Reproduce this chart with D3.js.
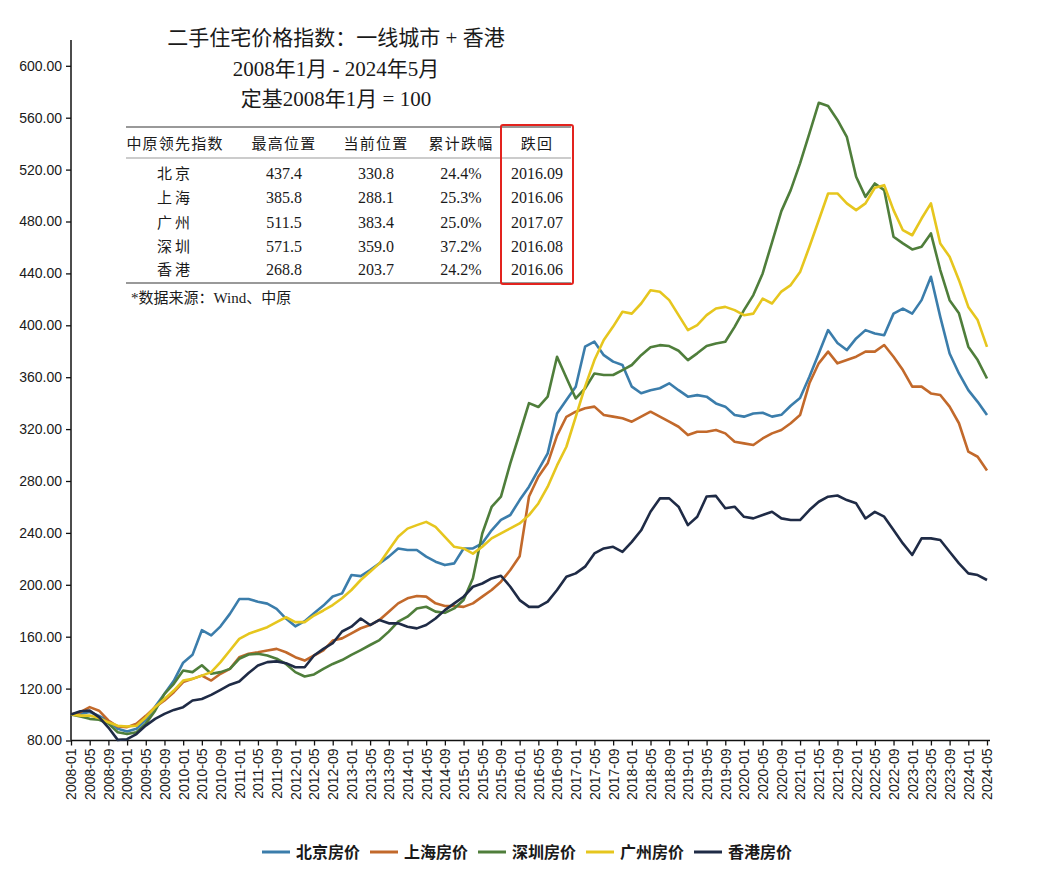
<!DOCTYPE html>
<html><head><meta charset="utf-8">
<script src="https://cdn.jsdelivr.net/npm/d3@7"></script>
<style>body{margin:0;background:#fff}</style></head>
<body><svg id="c" width="1058" height="875"></svg>
<script>
// ---------- DATA ----------
const seriesNames = ["北京房价","上海房价","深圳房价","广州房价","香港房价"];
const seriesColors = ["#3b7dab","#c2692b","#4f7e3b","#e6c61e","#1f2b46"];
const startMonth = "2008-01";
const stepMonths = 2;
const beijing = [100,100.5,102,99,95,89,87,89,96,106,
 116,126,140,146,165,161,168,177.6,189,189,
 187,185.5,181.5,174,168,172,178,184,191,193.4,
 207.5,206.7,211.4,216.5,221.7,228,226.8,226.8,221.7,217.8,
 215.2,216.5,228,228,232,242,250,253.8,265.3,275.6,
 288.5,301.3,332,342.4,352.7,383.5,387.4,377,372,369.4,
 352.7,347.6,350,351.5,355.3,350,345,346.2,345,339.8,
 337.3,330.9,329.6,332,332.6,329.6,331,338,344,360.4,
 378.3,396.3,386.4,380.9,389.9,396.3,393.7,392.4,409,412.9,
 409,419.4,437.4,406.5,378.3,362.9,350,341,330.8];
const shanghai = [100,101.8,105.7,103,95.4,90.8,90.3,93,99,105.7,
 110.8,117.2,125,127.5,130,126.2,131.4,135.2,144.2,146.8,
 148,149.4,150.6,148,144.2,141.6,145.5,149.4,157,158.7,
 162.6,166.5,169,172.9,179.3,185.7,189.6,191.4,190.9,185.7,
 183.7,183.7,183,185.7,190.9,196,202.4,211.4,222,268,
 283.3,293.6,315,329.5,333.4,336,337.3,330.9,329.6,328.3,
 325.7,329.6,333.4,329.6,325.7,321.8,315.4,318,318,319.3,
 316.7,310.2,309,307.7,312.8,316.7,319.3,324.5,330.8,355.3,
 370.7,379.7,370.7,373.2,375.8,379.7,379.7,384.8,375.8,365.5,
 352.7,352.7,347.5,346.3,337.3,324.5,302.6,298.7,288.1];
const shenzhen = [100,98.5,96.7,96,93,86.4,85,86.4,93,103,
 116,123.7,134,132.7,138,131.4,132.7,135.2,143,146.3,
 146.8,145.5,143,139,132.7,129.3,130.9,135.2,139,142,
 146,149.7,153.6,157.4,163.9,171.6,175.4,181.8,183.1,179.3,
 178.4,181.8,188.3,205,239.5,260,268,293.6,316.6,340,
 337,345,375.8,359.6,343.6,351.3,362.9,361.7,361.7,365.5,
 369.4,377,383,384.7,384,380.4,373.2,378.4,384,386,
 387.3,398.8,411.7,423.3,440,464,488,504.2,524.8,547.9,
 571.5,569,558.3,545.3,514.5,499,509.3,504.2,468.3,463.1,
 458.5,460.5,470.8,442.6,419.4,409.2,383.5,373.2,359];
const guangzhou = [100,99.2,99.2,97.3,94,91.4,90.8,91.4,97.8,105.7,
 112,118.5,126.2,127.5,130,132.7,140.4,149.4,158.3,162.2,
 164.8,167.3,171.2,175,171.2,171.2,176.3,180.2,184.4,189.6,
 196,203.7,210,216.5,226.8,237,243.3,246,248.5,244.6,
 237,229.3,228,224,229.3,235.8,239.6,243.5,247.3,253.7,
 262.7,275.6,292,306.4,329.5,352.7,373.2,388.7,399,410.4,
 409,416.8,427,425.8,419.4,407.8,396.3,400.1,407.8,413,
 414.2,411.7,407.8,409,420.6,416.8,426,431,441,460.5,
 481,501.6,501.6,494,488.8,494,506,508,488.8,473.3,
 469.4,482.3,494,463.1,452.8,434.8,414.2,404,383.4];
const hongkong = [100,102.6,103,98,90,80.5,81,85,91.5,96.7,
 100.5,103.6,105.7,110.8,112,115.2,119,123,125.5,132,
 137.8,140.4,141,139.6,136.5,136.5,145.5,150.6,155,164,
 167.7,174,169,172.9,170.3,170.3,167.7,166.4,169,174,
 180.5,185.7,190.8,198.5,201,204.9,207,198.5,188.2,183,
 183,187,196,206.2,208.8,214,224.2,228,229.3,225.4,
 233.1,242,256.3,266.6,266.6,260.2,246,252.4,268,268.5,
 259,260.2,252.4,251.2,253.8,256.3,251.2,249.9,249.9,257.6,
 264,267.9,268.8,265.3,262.8,251.1,256.2,252.5,242.2,231.9,
 223,235.8,235.8,234.5,225.5,216.5,208.8,207.5,203.7];
const allSeries = [beijing, shanghai, shenzhen, guangzhou, hongkong];

const xTickLabels = ["2008-01","2008-05","2008-09","2009-01","2009-05","2009-09","2010-01","2010-05","2010-09","2011-01","2011-05","2011-09","2012-01","2012-05","2012-09","2013-01","2013-05","2013-09","2014-01","2014-05","2014-09","2015-01","2015-05","2015-09","2016-01","2016-05","2016-09","2017-01","2017-05","2017-09","2018-01","2018-05","2018-09","2019-01","2019-05","2019-09","2020-01","2020-05","2020-09","2021-01","2021-05","2021-09","2022-01","2022-05","2022-09","2023-01","2023-05","2023-09","2024-01","2024-05"];
const yTicks = [80,120,160,200,240,280,320,360,400,440,480,520,560,600];

const titleLines = ["二手住宅价格指数：一线城市 + 香港","2008年1月 - 2024年5月","定基2008年1月 = 100"];
const tableHeader = ["中原领先指数","最高位置","当前位置","累计跌幅","跌回"];
const tableCities = ["北京","上海","广州","深圳","香港"];
const tableMax = ["437.4","385.8","511.5","571.5","268.8"];
const tableNow = ["330.8","288.1","383.4","359.0","203.7"];
const tableDrop = ["24.4%","25.3%","25.0%","37.2%","24.2%"];
const tableBack = ["2016.09","2016.06","2017.07","2016.08","2016.06"];
const footnote = "*数据来源：Wind、中原";

// ---------- CHART ----------
const svg = d3.select("#c");
svg.append("rect").attr("width",1058).attr("height",875).attr("fill","#fff");
const monthIndex = s => { const [yy,mm] = s.split("-").map(Number); return (yy-2008)*12 + (mm-1); };
const x0 = monthIndex(startMonth);
const x = d3.scaleLinear().domain([0,196]).range([71,987]);
const y = d3.scaleLinear().domain([80,600]).range([740.5,65.8]);

const sansLatin = "'Liberation Sans', Arial, sans-serif";
const serifMix = "'Liberation Serif','Noto Sans CJK SC',serif";

// Y axis
const ya = svg.append("g").attr("transform","translate(71,0)")
  .call(d3.axisLeft(y).tickValues(yTicks).tickFormat(d3.format(".2f")).tickSize(5).tickPadding(4));
ya.select(".domain").remove();
ya.selectAll("line").attr("stroke","#111").attr("stroke-width",1.3);
ya.selectAll("text").attr("font-family",sansLatin).attr("font-size",14).attr("fill","#1a1a1a");
svg.append("line").attr("x1",71).attr("x2",71).attr("y1",40).attr("y2",740.5).attr("stroke","#111").attr("stroke-width",1.5);

// X axis
const xa = svg.append("g").attr("transform","translate(0,740.5)")
  .call(d3.axisBottom(x).tickValues(xTickLabels.map(monthIndex)).tickFormat((d,i)=>xTickLabels[i]).tickSize(5));
xa.select(".domain").remove();
xa.selectAll("line").attr("stroke","#111").attr("stroke-width",1.3);
xa.selectAll("text").attr("transform","rotate(-90)").attr("x",-8).attr("y",0).attr("dy","0.35em")
  .attr("text-anchor","end").attr("font-family",sansLatin).attr("font-size",14).attr("fill","#1a1a1a");
svg.append("line").attr("x1",71).attr("x2",990).attr("y1",740.5).attr("y2",740.5).attr("stroke","#111").attr("stroke-width",1.5);

// Lines
const line = d3.line().x((d,i)=>x(x0 + i*stepMonths)).y(d=>y(d));
allSeries.forEach((s,k)=>{
  svg.append("path").datum(s).attr("d",line).attr("fill","none")
    .attr("stroke",seriesColors[k]).attr("stroke-width",2.6).attr("stroke-linejoin","round");
});

// Title
const titleY = [45,76,106];
titleLines.forEach((t,i)=>{
  svg.append("text").attr("x",336).attr("y",titleY[i]).attr("text-anchor","middle")
    .attr("font-family",serifMix).attr("font-size",21).attr("fill","#1a1a1a").text(t);
});

// Table
const colX = [175,284,376,461,537];
svg.append("line").attr("x1",126).attr("x2",571).attr("y1",127).attr("y2",127).attr("stroke","#777").attr("stroke-width",1.5);
svg.append("line").attr("x1",126).attr("x2",571).attr("y1",158).attr("y2",158).attr("stroke","#999").attr("stroke-width",1.2);
svg.append("line").attr("x1",126).attr("x2",571).attr("y1",283).attr("y2",283).attr("stroke","#777").attr("stroke-width",1.5);
tableHeader.forEach((h,i)=>{
  svg.append("text").attr("x",colX[i]).attr("y",149).attr("text-anchor","middle")
    .attr("font-family",serifMix).attr("font-size",15).attr("letter-spacing",1.2).attr("fill","#1a1a1a").text(h);
});
const rowY = [179,203,228,252,275];
const cols = [tableCities, tableMax, tableNow, tableDrop, tableBack];
cols.forEach((col,ci)=>{
  col.forEach((v,ri)=>{
    svg.append("text").attr("x",colX[ci]).attr("y",rowY[ri]).attr("text-anchor","middle")
      .attr("font-family",serifMix).attr("font-size",ci===0?15:16).attr("letter-spacing",ci===0?3:0)
      .attr("fill","#1a1a1a").text(v);
  });
});
svg.append("rect").attr("x",501).attr("y",125).attr("width",72).attr("height",159).attr("rx",2)
  .attr("fill","none").attr("stroke","#e3231e").attr("stroke-width",2);
svg.append("text").attr("x",131).attr("y",303).attr("font-family",serifMix).attr("font-size",15)
  .attr("fill","#1a1a1a").text(footnote);

// Legend
seriesNames.forEach((n,i)=>{
  const lx = 262 + i*108;
  svg.append("line").attr("x1",lx).attr("x2",lx+28).attr("y1",852).attr("y2",852)
    .attr("stroke",seriesColors[i]).attr("stroke-width",3);
  svg.append("text").attr("x",lx+34).attr("y",858).attr("font-family","'Noto Sans CJK SC',sans-serif")
    .attr("font-weight",700).attr("font-size",16).attr("fill","#1a1a1a").text(n);
});
</script></body></html>
